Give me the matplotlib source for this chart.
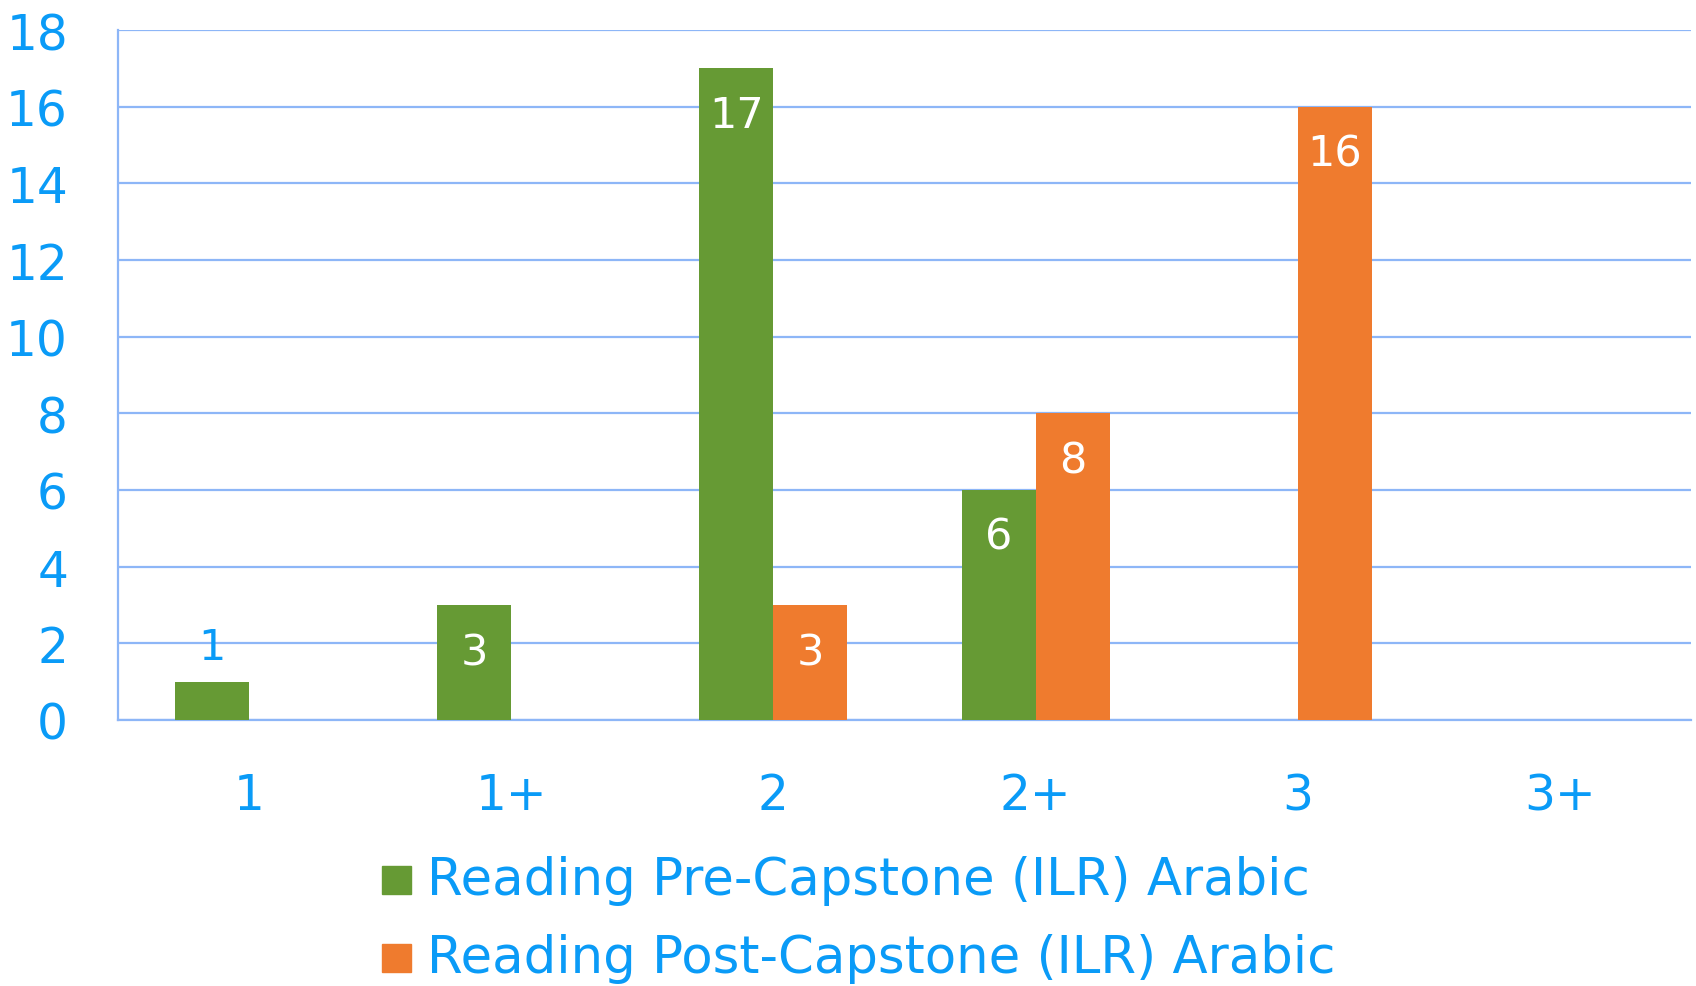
import matplotlib
matplotlib.use("Agg")
import matplotlib.pyplot as plt
from matplotlib.patches import Rectangle
import numpy as np

categories = ["1", "1+", "2", "2+", "3", "3+"]
series_names = ["Reading Pre-Capstone (ILR) Arabic", "Reading Post-Capstone (ILR) Arabic"]
pre_values = [1, 3, 17, 6, 0, 0]
post_values = [0, 0, 3, 8, 16, 0]
yticks = [0, 2, 4, 6, 8, 10, 12, 14, 16, 18]

GREEN = "#669A34"
ORANGE = "#EF7B2E"
BLUE_TEXT = "#0A9BF7"
GRID = "#8DB6F7"
FONT = ["DejaVu Sans"]

W, H = 1696, 987
fig = plt.figure(figsize=(W / 100, H / 100), dpi=100)
left, right, top, bottom = 118, 1691, 31, 721
ax = fig.add_axes([left / W, 1 - bottom / H, (right - left) / W, (bottom - top) / H])

x = np.arange(len(categories))
bw = 0.282
series = [pre_values, post_values]
colors = [GREEN, ORANGE]
offsets = [-bw / 2, bw / 2]

px_per_unit = (bottom - top) / 18.0
for vals, col, off in zip(series, colors, offsets):
    for xi, v in zip(x, vals):
        if v <= 0:
            continue
        ax.bar(xi + off, v, width=bw, color=col, zorder=3, linewidth=0)
        if v >= 3:
            ax.text(xi + off, v - 47 / px_per_unit, str(v), ha="center", va="center",
                    color="white", fontsize=31, family=FONT, zorder=4)
        else:
            ax.text(xi + off, v + 35 / px_per_unit, str(v), ha="center", va="center",
                    color=BLUE_TEXT, fontsize=31, family=FONT, zorder=4)

ax.set_xlim(-0.5, len(categories) - 0.5)
ax.set_ylim(0, 18)
ax.set_yticks(yticks)
ax.set_yticklabels([str(t) for t in yticks], family=FONT, fontsize=35, color=BLUE_TEXT)
ax.set_xticks(x)
ax.set_xticklabels(categories, family=FONT, fontsize=35, color=BLUE_TEXT)
ax.tick_params(axis="y", length=0, pad=36)
ax.tick_params(axis="x", length=0, pad=37)
ax.yaxis.grid(True, color=GRID, linewidth=1.6, zorder=0)
ax.set_axisbelow(True)
for s in ["top", "right"]:
    ax.spines[s].set_visible(False)
for s in ["left", "bottom"]:
    ax.spines[s].set_color(GRID)
    ax.spines[s].set_linewidth(1.6)

# legend
row_y = [881, 959]
for name, col, yy in zip(series_names, colors, row_y):
    fig.patches.append(Rectangle((382 / W, 1 - (yy + 14) / H), 29 / W, 28 / H,
                                 transform=fig.transFigure, color=col, figure=fig))
    fig.text(427 / W, 1 - yy / H, name, ha="left", va="center", color=BLUE_TEXT,
             fontsize=37, family=FONT)

fig.savefig("out.png", dpi=100)
